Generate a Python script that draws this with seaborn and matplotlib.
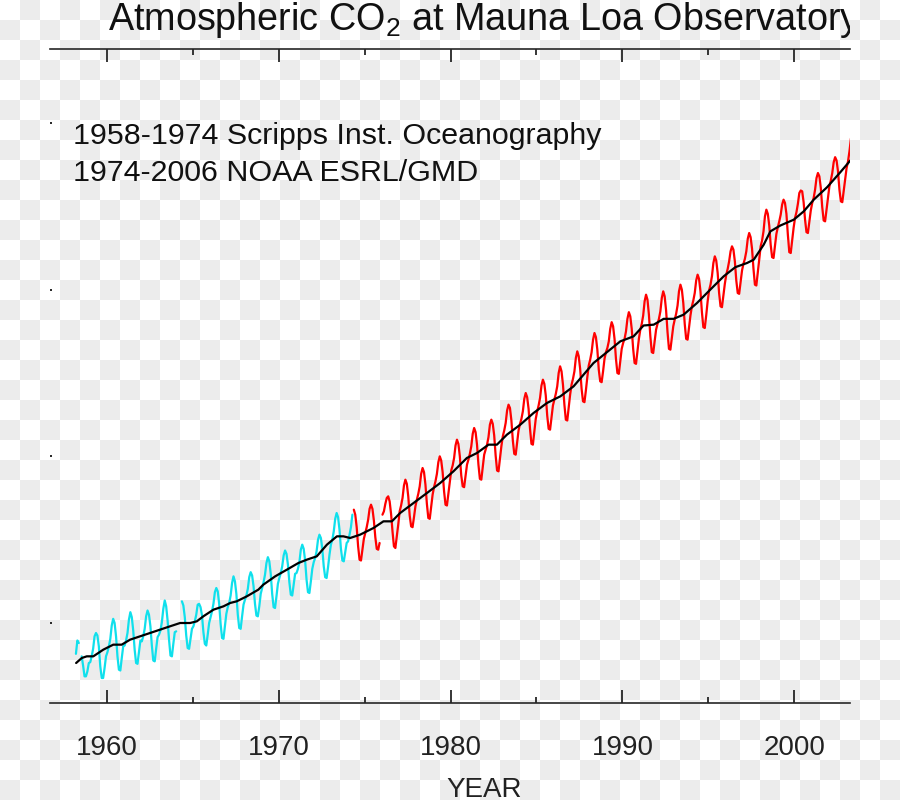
import numpy as np
import pandas as pd
import seaborn as sns
import matplotlib.pyplot as plt
from matplotlib.colors import ListedColormap

NA = np.nan

# monthly means, Scripps record, Mar 1958 - Apr 1974 (ppm)
scripps_start = (1958, 3)
scripps_ppm = [
    316.3, 317.9, 317.6, NA, 316.0, 314.9, 313.6, 313.6, 314.2, 315.2,
    315.3, 316.0, 316.9, 318.4, 318.8, 318.5, 317.2, 314.8, 313.4, 313.4, 314.6, 316.0,
    316.5, 317.2, 318.1, 319.7, 320.5, 320.0, 318.4, 316.0, 314.4, 314.3, 315.8, 317.2,
    317.3, 317.9, 318.8, 320.4, 321.3, 320.7, 319.1, 316.8, 315.2, 315.1, 316.5, 317.9,
    317.8, 318.4, 319.3, 320.8, 321.5, 321.0, 319.6, 317.3, 315.5, 315.4, 316.9, 318.3,
    318.6, 319.1, 320.1, 321.7, 322.7, 322.0, 320.3, 318.0, 316.1, 316.0, 317.5, 318.9,
    319.0, NA, NA, NA, 322.6, 322.1, 320.7, 318.5, 317.0, 316.9, 318.1, 319.3,
    319.6, 320.2, 321.0, 322.2, 322.3, 321.9, 320.9, 318.9, 317.5, 317.3, 318.6, 320.0,
    320.7, 321.4, 322.3, 323.7, 324.2, 323.8, 322.3, 319.9, 318.2, 318.1, 319.6, 321.1,
    321.9, 322.4, 323.3, 324.8, 325.6, 325.0, 323.5, 321.0, 319.4, 319.3, 320.8, 322.2,
    322.8, 323.3, 324.1, 325.5, 326.1, 325.7, 324.4, 322.3, 320.9, 320.8, 322.0, 323.5,
    324.2, 324.9, 325.8, 327.2, 327.9, 327.4, 325.9, 323.5, 321.9, 321.8, 323.2, 324.7,
    325.4, 326.0, 326.8, 328.1, 328.7, 328.3, 327.0, 324.9, 323.4, 323.3, 324.6, 325.9,
    326.0, 326.5, 327.3, 328.8, 329.4, 328.9, 327.5, 325.2, 323.7, 323.6, 325.0, 326.5,
    327.3, 327.8, 328.6, 330.0, 330.6, 330.2, 328.9, 326.8, 325.5, 325.4, 326.7, 328.2,
    329.4, 330.0, 331.0, 332.5, 333.2, 332.7, 331.2, 328.9, 327.5, 327.4, 328.5, 329.6,
    329.8, 330.6, 331.5, 333.0,
]

# monthly means, NOAA record, May 1974 - Jun 2003 (ppm)
noaa_start = (1974, 5)
noaa_ppm = [
    333.6, 333.0, 331.5, 329.2, 327.6, 327.5, 328.8, 330.1,
    330.8, 331.5, 332.4, 333.7, 334.2, 333.7, 332.3, 330.3, 328.9, 328.8, 329.6, NA,
    333.0, 333.4, 334.3, 335.0, 335.2, 334.6, 333.1, 331.0, 329.2, 329.0, 330.4, 331.8,
    333.4, 334.1, 335.0, 336.5, 337.2, 336.7, 335.2, 332.9, 331.6, 331.5, 332.7, 334.0,
    334.8, 335.5, 336.4, 337.9, 338.6, 338.1, 336.6, 334.3, 332.6, 332.5, 333.9, 335.4,
    336.3, 337.0, 337.9, 339.3, 340.0, 339.5, 338.1, 335.8, 334.2, 334.1, 335.5, 337.0,
    338.3, 338.9, 339.8, 341.3, 342.0, 341.5, 340.0, 337.7, 336.4, 336.3, 337.6, 339.0,
    339.6, 340.3, 341.2, 342.7, 343.4, 342.9, 341.4, 339.0, 337.3, 337.2, 338.7, 340.2,
    340.8, 341.4, 342.3, 343.8, 344.4, 343.9, 342.5, 340.1, 338.3, 338.2, 339.7, 341.2,
    342.4, 343.1, 344.0, 345.5, 346.2, 345.8, 344.3, 341.9, 340.3, 340.2, 341.6, 343.1,
    343.9, 344.5, 345.4, 346.9, 347.6, 347.1, 345.7, 343.3, 341.5, 341.4, 342.9, 344.5,
    345.4, 346.1, 347.0, 348.5, 349.2, 348.7, 347.3, 344.9, 343.3, 343.2, 344.6, 346.1,
    346.8, 347.5, 348.4, 350.0, 350.8, 350.2, 348.6, 346.2, 344.4, 344.3, 345.8, 347.4,
    348.6, 349.3, 350.2, 351.8, 352.6, 352.0, 350.5, 348.1, 346.6, 346.5, 347.9, 349.5,
    350.9, 351.6, 352.5, 354.0, 354.8, 354.3, 352.8, 350.4, 349.0, 348.9, 350.2, 351.7,
    352.5, 353.0, 353.8, 355.3, 356.1, 355.6, 354.1, 351.7, 350.0, 349.9, 351.4, 352.9,
    353.6, 354.1, 355.0, 356.5, 357.3, 356.8, 355.3, 352.9, 351.2, 351.1, 352.6, 354.1,
    355.2, 355.9, 356.9, 358.6, 359.4, 358.8, 357.0, 354.4, 352.5, 352.4, 353.8, 355.2,
    355.9, 356.5, 357.4, 359.0, 359.8, 359.2, 357.5, 354.9, 352.9, 352.8, 354.2, 355.6,
    356.4, 357.1, 358.1, 359.8, 360.6, 360.0, 358.4, 355.9, 354.1, 354.0, 355.4, 356.9,
    358.0, 358.7, 359.6, 361.1, 361.8, 361.3, 359.8, 357.3, 355.5, 355.4, 356.9, 358.6,
    359.9, 360.6, 361.6, 363.2, 364.0, 363.5, 362.0, 359.6, 358.0, 357.9, 359.3, 360.7,
    361.8, 362.5, 363.4, 364.6, 365.2, 364.8, 363.4, 361.1, 359.6, 359.5, 360.9, 362.3,
    363.1, 363.7, 364.6, 366.1, 366.8, 366.3, 364.9, 362.5, 360.6, 360.5, 362.0, 363.6,
    365.2, 365.9, 367.0, 368.8, 369.6, 369.1, 367.7, 365.4, 363.9, 363.8, 365.2, 366.7,
    367.5, 368.2, 369.0, 370.2, 370.8, 370.4, 369.1, 366.6, 364.5, 364.4, 365.9, 367.4,
    368.6, 369.3, 370.3, 371.6, 371.9, 371.8, 370.5, 368.4, 366.9, 366.8, 368.1, 369.5,
    370.4, 371.0, 372.0, 373.4, 374.0, 373.6, 372.2, 369.9, 368.3, 368.2, 369.6, 371.1,
    372.4, 373.1, 374.0, 375.3, 375.9, 375.5, 374.2, 372.0, 370.6, 370.5, 371.9, 373.4,
    374.6, 375.4, 376.6, 378.1, 378.9, 378.4,
]

# seasonally corrected trend (black curve)
trend_year = [1958.22, 1958.55, 1958.84, 1959.22, 1959.80, 1960.38, 1960.87, 1961.36,
              1961.94, 1962.52, 1963.10, 1963.68, 1964.27, 1964.85, 1965.24, 1965.62,
              1966.21, 1966.79, 1967.18, 1967.56, 1968.15, 1968.82, 1969.11, 1969.80,
              1970.48, 1971.15, 1971.64, 1972.22, 1972.81, 1973.39, 1973.77, 1974.16,
              1974.74, 1975.52, 1976.10, 1976.59, 1977.07, 1977.85, 1978.63, 1979.40,
              1980.17, 1980.95, 1981.54, 1982.21, 1982.70, 1983.28, 1984.06, 1984.83,
              1985.61, 1986.39, 1987.16, 1987.74, 1988.32, 1989.88, 1990.65, 1991.23,
              1991.82, 1992.40, 1992.98, 1993.56, 1994.34, 1995.11, 1995.89, 1996.57,
              1997.25, 1997.64, 1998.22, 1998.61, 1999.19, 1999.97, 2000.55, 2001.13,
              2001.91, 2002.68, 2003.30]
trend_ppm = [315.2, 315.8, 316.0, 316.0, 316.8, 317.4, 317.4, 318.0,
             318.4, 318.8, 319.2, 319.6, 320.0, 320.0, 320.2, 320.8,
             321.6, 322.0, 322.4, 322.6, 323.2, 324.0, 324.6, 325.6,
             326.4, 327.2, 327.6, 328.0, 329.4, 330.4, 330.4, 330.2,
             330.6, 331.4, 332.2, 332.2, 333.2, 334.4, 335.6, 336.8,
             338.2, 339.8, 340.4, 341.4, 341.4, 342.6, 343.8, 345.2,
             346.4, 347.2, 348.4, 349.8, 351.2, 353.8, 354.4, 355.7,
             355.8, 356.5, 356.5, 357.0, 358.4, 360.0, 361.6, 362.7,
             363.2, 363.6, 365.4, 367.0, 367.7, 368.4, 369.4, 370.8,
             372.3, 374.1, 375.6]

year_ticks = [1960, 1970, 1980, 1990, 2000]
ppm_ticks = [320, 340, 360, 380]


def monthly_frame(start, values):
    y0, m0 = start
    df = pd.DataFrame({'ppm': values})
    df['year'] = y0 + (m0 - 1 + np.arange(len(df)) + 0.5) / 12
    df['seg'] = df['ppm'].isna().cumsum()
    return df.dropna()


sns.set_style('ticks')
plt.rcParams['font.family'] = ['Liberation Sans', 'DejaVu Sans']
plt.rcParams['mathtext.fontset'] = 'custom'
plt.rcParams['mathtext.rm'] = 'Liberation Sans'

fig = plt.figure(figsize=(9, 8), dpi=100)

# transparent-background checkerboard
bg = fig.add_axes([0, 0, 1, 1], zorder=-10)
checker = np.add.outer(np.arange(40), np.arange(45)) % 2
bg.imshow(checker, cmap=ListedColormap(['white', '#ececec']), aspect='auto',
          interpolation='nearest', extent=[0, 900, 800, 0])
bg.axis('off')

ax = fig.add_axes([50 / 900, 1 - 703 / 800, 800 / 900, 654 / 800])
ax.patch.set_alpha(0)

scripps = monthly_frame(scripps_start, scripps_ppm)
noaa = monthly_frame(noaa_start, noaa_ppm)
trend = pd.DataFrame({'year': trend_year, 'ppm': trend_ppm})

sns.lineplot(data=scripps, x='year', y='ppm', units='seg', estimator=None, sort=False,
             color='#10e0ec', lw=1.6, ax=ax, legend=False)
sns.lineplot(data=noaa, x='year', y='ppm', units='seg', estimator=None, sort=False,
             color='#ff0000', lw=1.6, ax=ax, legend=False)
sns.lineplot(data=trend, x='year', y='ppm', estimator=None, sort=False,
             color='black', lw=1.6, ax=ax, legend=False)

ax.set_xlim(1956.70, 2003.24)
ax.set_ylim(310.4, 388.88)
ax.set_xlabel('')
ax.set_ylabel('')

for s in ['left', 'right']:
    ax.spines[s].set_visible(False)
for s in ['top', 'bottom']:
    ax.spines[s].set_linewidth(1.2)

ax.set_xticks(year_ticks)
ax.set_xticks([1965, 1975, 1985, 1995], minor=True)
ax.tick_params(axis='x', which='both', direction='in', top=True, bottom=True,
               width=1.1, colors='black', labelcolor='#222222')
ax.tick_params(axis='x', which='major', length=9.2, labelsize=20, pad=23)
ax.tick_params(axis='x', which='minor', length=4.4)
ax.set_yticks(ppm_ticks)
ax.tick_params(axis='y', which='both', direction='in', left=True, right=False,
               length=1.2, width=1.4, labelleft=False)
ax.tick_params(axis='y', which='minor', left=False)

# title strip, clipped where the original image was cut
tax = fig.add_axes([0, 1 - 49 / 800, 850 / 900, 49 / 800])
tax.axis('off')
tax.text(108 / 850, (49 - 30) / 49, 'Atmospheric CO$_\\mathrm{2}$ at Mauna Loa Observatory',
         fontsize=27.2, color='#111111', ha='left', va='baseline', clip_on=True)

fig.text(73 / 900, 1 - 144 / 800, '1958-1974 Scripps Inst. Oceanography',
         fontsize=21.9, color='#111111', va='baseline')
fig.text(73 / 900, 1 - 181 / 800, '1974-2006 NOAA ESRL/GMD',
         fontsize=21.9, color='#111111', va='baseline')
fig.text(484.5 / 900, 1 - 777 / 800, 'YEAR', fontsize=20, color='#222222',
         ha='center', va='top')

plt.savefig('out.png', dpi=100)
